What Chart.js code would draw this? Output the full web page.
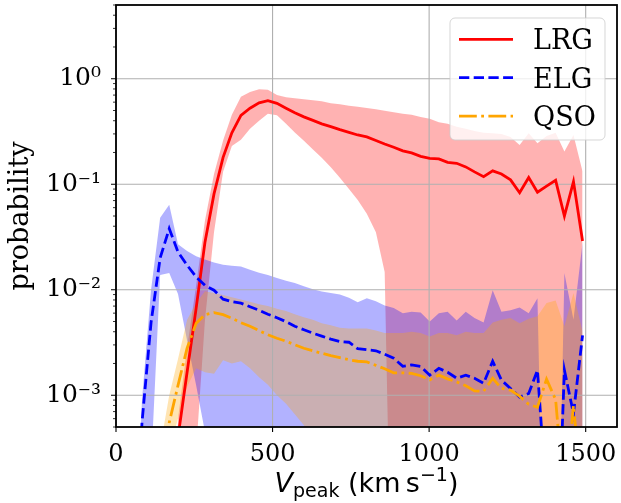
<!DOCTYPE html>
<html>
<head>
<meta charset="utf-8">
<script src="https://cdn.jsdelivr.net/npm/chart.js@4.4.1/dist/chart.umd.min.js"></script>
<style>
  html, body { margin: 0; padding: 0; background: #fff; }
</style>
</head>
<body>
<canvas id="vpeakChart" width="621" height="503"></canvas>
<script>
// bin centres, km/s
const vpeak = [26, 55, 83, 112, 141, 170, 198, 227, 256, 284, 313, 342, 370, 399, 428, 457, 485, 514,
  543, 571, 600, 629, 657, 686, 715, 744, 772, 801, 830, 858, 887, 916, 944, 973, 1002, 1031, 1059,
  1088, 1117, 1145, 1174, 1203, 1231, 1260, 1289, 1318, 1346, 1375, 1404, 1432, 1461, 1490];

// 1e-6 stands for "empty bin" (below the axis)
const lrgMid = [1e-6, 1e-6, 1e-6, 1e-6, 1e-6, 1e-6, 4e-4, 0.00165, 0.0067, 0.028, 0.081, 0.18, 0.307,
  0.45, 0.525, 0.59, 0.62, 0.585, 0.525, 0.475, 0.435, 0.403, 0.374, 0.352, 0.329, 0.31, 0.293, 0.281,
  0.26, 0.241, 0.224, 0.207, 0.198, 0.184, 0.176, 0.174, 0.161, 0.158, 0.146, 0.131, 0.118, 0.134,
  0.125, 0.11, 0.083, 0.116, 0.084, 0.096, 0.109, 0.05, 0.106, 0.029];
const lrgHigh = [1e-6, 1e-6, 1e-6, 1e-6, 1e-6, 1e-6, 6e-4, 0.0028, 0.011, 0.045, 0.125, 0.26, 0.455,
  0.675, 0.75, 0.795, 0.786, 0.70, 0.667, 0.653, 0.639, 0.625, 0.611, 0.585, 0.573, 0.554, 0.542, 0.527,
  0.513, 0.496, 0.48, 0.465, 0.455, 0.435, 0.417, 0.386, 0.374, 0.35, 0.335, 0.32, 0.307, 0.304, 0.30,
  0.281, 0.236, 0.305, 0.245, 0.287, 0.307, 0.204, 0.293, 0.132];
const lrgLow = [1e-6, 1e-6, 1e-6, 1e-6, 1e-6, 1e-6, 1e-6, 1e-6, 3e-4, 0.0051, 0.035, 0.131, 0.231,
  0.264, 0.335, 0.40, 0.465, 0.45, 0.374, 0.31, 0.258, 0.214, 0.178, 0.145, 0.115, 0.09, 0.071, 0.0525,
  0.035, 0.0147, 1e-6, 1e-6, 1e-6, 1e-6, 1e-6, 1e-6, 1e-6, 1e-6, 1e-6, 1e-6, 1e-6, 1e-6, 1e-6, 1e-6,
  1e-6, 1e-6, 1e-6, 1e-6, 1e-6, 1e-6, 1e-6, 1e-6];

const elgMid = [1e-6, 1e-5, 5.5e-4, 0.0049, 0.020, 0.038, 0.0228, 0.0171, 0.0132, 0.011, 0.0099,
  0.00814, 0.0077, 0.00746, 0.0069, 0.0064, 0.00586, 0.00543, 0.00498, 0.00451, 0.00418, 0.00387,
  0.00363, 0.0034, 0.00323, 0.00318, 0.00276, 0.0027, 0.00264, 0.00245, 0.00224, 0.00188, 0.00194,
  0.00188, 0.00155, 0.0018, 0.00165, 0.00145, 0.00155, 0.00145, 0.0013, 0.0021, 0.00139, 0.00116,
  0.00096, 0.00104, 0.00173, 1e-4, 1e-5, 0.00173, 6.7e-4, 0.0037];
const elgHigh = [1e-6, 1e-5, 9e-4, 0.01, 0.048, 0.064, 0.027, 0.0233, 0.0208, 0.0193, 0.0181, 0.0173,
  0.0169, 0.0166, 0.0155, 0.0145, 0.0138, 0.0129, 0.0122, 0.0116, 0.0108, 0.0101, 0.0096, 0.0093,
  0.0090, 0.0084, 0.0076, 0.0083, 0.0078, 0.0071, 0.0067, 0.0060, 0.0062, 0.0061, 0.0050, 0.0060,
  0.0062, 0.0051, 0.0062, 0.0054, 0.0049, 0.0099, 0.0062, 0.0064, 0.0068, 0.0060, 0.0083, 1e-6, 1e-6,
  0.0144, 0.0052, 0.028];
const elgLow = [1e-6, 1e-6, 1e-6, 2.1e-4, 0.0138, 0.0144, 0.0091, 0.0033, 0.00124, 4.5e-4, 1e-6, 1e-6,
  1e-6, 1e-6, 1e-6, 1e-6, 1e-6, 1e-6, 1e-6, 1e-6, 1e-6, 1e-6, 1e-6, 1e-6, 1e-6, 1e-6, 1e-6, 1e-6, 1e-6,
  1e-6, 1e-6, 1e-6, 1e-6, 1e-6, 1e-6, 1e-6, 1e-6, 1e-6, 1e-6, 1e-6, 1e-6, 1e-6, 1e-6, 1e-6, 1e-6, 1e-6,
  1e-6, 1e-6, 1e-6, 1e-6, 1e-6, 1e-6];

const qsoMid = [1e-6, 1e-6, 1e-6, 1e-6, 1e-4, 5.5e-4, 0.00124, 0.0028, 0.0048, 0.0058, 0.00607, 0.0058,
  0.00537, 0.00487, 0.00451, 0.00409, 0.00375, 0.00347, 0.00325, 0.00301, 0.00279, 0.00264, 0.0025,
  0.00237, 0.00227, 0.00217, 0.0021, 0.00207, 0.00192, 0.00178, 0.00163, 0.00163, 0.00161, 0.00153,
  0.0014, 0.00155, 0.00143, 0.00134, 0.00123, 0.0011, 0.00109, 0.00145, 0.00116, 0.00112, 0.00098,
  0.00082, 0.00077, 0.00142, 0.00091, 1e-4, 0.0008, 1e-4];
const qsoHigh = [1e-6, 1e-6, 1e-6, 1e-6, 3.2e-4, 0.001, 0.0022, 0.0052, 0.0075, 0.0097, 0.0093, 0.0089,
  0.0085, 0.0081, 0.0077, 0.0073, 0.0070, 0.0066, 0.0063, 0.00586, 0.0055, 0.0052, 0.0048, 0.0046,
  0.00436, 0.0043, 0.0043, 0.0043, 0.0041, 0.0039, 0.0039, 0.0039, 0.0040, 0.0039, 0.0036, 0.0039,
  0.0039, 0.0037, 0.0040, 0.0039, 0.0039, 0.0049, 0.0052, 0.0054, 0.0048, 0.0053, 0.0056, 0.0075,
  0.0079, 0.0045, 0.0093, 0.004];
const qsoLow = [1e-6, 1e-6, 1e-6, 1e-6, 1e-6, 3e-4, 6e-4, 0.0012, 0.0018, 0.00165, 0.0016, 0.00215,
  0.002, 0.0021, 0.0018, 0.00148, 0.00126, 0.001, 0.00083, 0.00066, 0.00052, 3.5e-4, 1e-6, 1e-6,
  1e-6, 1e-6, 1e-6, 1e-6, 1e-6, 1e-6, 1e-6, 1e-6, 1e-6, 1e-6, 1e-6, 1e-6, 1e-6, 1e-6, 1e-6, 1e-6, 1e-6,
  1e-6, 1e-6, 1e-6, 1e-6, 1e-6, 1e-6, 1e-6, 1e-6, 1e-6, 1e-6, 1e-6];

const tracers = ["LRG", "ELG", "QSO"];
const xTicks = [0, 500, 1000, 1500];
const xTickLabels = ["0", "500", "1000", "1500"];
const yTicks = [1e-3, 1e-2, 1e-1, 1];
const yTickLabels = ["10\u207B\u00B3", "10\u207B\u00B2", "10\u207B\u00B9", "10\u2070"];
const yTitle = "probability";

const SERIF = "'DejaVu Serif', serif";
const SANS = "'DejaVu Sans', sans-serif";

const series = {
  LRG: { mid: lrgMid, low: lrgLow, high: lrgHigh },
  ELG: { mid: elgMid, low: elgLow, high: elgHigh },
  QSO: { mid: qsoMid, low: qsoLow, high: qsoHigh },
};
const styles = {
  LRG: { color: "#ff0000", band: "rgba(255,0,0,0.3)", dash: [] },
  ELG: { color: "#0000ff", band: "rgba(0,0,255,0.3)", dash: [10.3, 4.4] },
  QSO: { color: "#ffa500", band: "rgba(255,165,0,0.3)", dash: [17.8, 4.4, 2.8, 4.4] },
};
const LINE_W = 2.8;

const points = (arr) => arr.map((y, i) => ({ x: vpeak[i], y }));

const datasets = [];
tracers.forEach((name, k) => {
  datasets.push({
    label: name,
    data: points(series[name].mid),
    borderColor: styles[name].color,
    borderWidth: LINE_W,
    borderDash: styles[name].dash,
    borderCapStyle: "butt",
    pointRadius: 0,
    fill: false,
    order: 0.2 - 0.1 * k,
  });
});
tracers.forEach((name, k) => {
  datasets.push({
    label: name + " upper",
    data: points(series[name].high),
    borderColor: "rgba(0,0,0,0)",
    borderWidth: 0,
    pointRadius: 0,
    backgroundColor: styles[name].band,
    fill: "+1",
    order: 3 - k,
  });
  datasets.push({
    label: name + " lower",
    data: points(series[name].low),
    borderColor: "rgba(0,0,0,0)",
    borderWidth: 0,
    pointRadius: 0,
    fill: false,
    order: 3 - k,
  });
});

function drawGrid(chart) {
  const { ctx, chartArea: a, scales: { x, y } } = chart;
  ctx.save();
  ctx.strokeStyle = "#b0b0b0";
  ctx.lineWidth = 1.1;
  ctx.beginPath();
  xTicks.forEach((v) => {
    const px = x.getPixelForValue(v);
    ctx.moveTo(px, a.top);
    ctx.lineTo(px, a.bottom);
  });
  yTicks.forEach((v) => {
    const py = y.getPixelForValue(v);
    ctx.moveTo(a.left, py);
    ctx.lineTo(a.right, py);
  });
  ctx.stroke();
  ctx.restore();
}

function drawFrame(chart) {
  const { ctx, chartArea: a, scales: { x, y } } = chart;
  ctx.save();
  ctx.strokeStyle = "#000";
  // tick marks
  ctx.lineWidth = 1.1;
  ctx.beginPath();
  xTicks.forEach((v) => {
    const px = x.getPixelForValue(v);
    ctx.moveTo(px, a.bottom);
    ctx.lineTo(px, a.bottom + 5);
  });
  yTicks.forEach((v) => {
    const py = y.getPixelForValue(v);
    ctx.moveTo(a.left - 5, py);
    ctx.lineTo(a.left, py);
  });
  ctx.stroke();
  ctx.lineWidth = 0.8;
  ctx.beginPath();
  for (let e = -4; e <= 0; e++) {
    for (let m = 2; m <= 9; m++) {
      const v = m * Math.pow(10, e);
      if (v < y.min || v > y.max) continue;
      const py = y.getPixelForValue(v);
      ctx.moveTo(a.left - 3, py);
      ctx.lineTo(a.left, py);
    }
  }
  ctx.stroke();
  ctx.lineWidth = 1.8;
  ctx.strokeRect(a.left, a.top, a.right - a.left, a.bottom - a.top);
  ctx.restore();
}

function drawLegend(chart) {
  const { ctx } = chart;
  const box = { x: 450, y: 18, w: 155, h: 122 };
  ctx.save();
  ctx.beginPath();
  ctx.roundRect(box.x, box.y, box.w, box.h, 5);
  ctx.fillStyle = "rgba(255,255,255,0.8)";
  ctx.fill();
  ctx.strokeStyle = "rgba(204,204,204,0.8)";
  ctx.lineWidth = 1;
  ctx.stroke();
  ctx.font = `27px ${SERIF}`;
  ctx.fillStyle = "#000";
  ctx.textBaseline = "alphabetic";
  tracers.forEach((name, k) => {
    const ry = 39.3 + k * 38.4;
    ctx.beginPath();
    ctx.setLineDash(styles[name].dash);
    ctx.lineCap = "butt";
    ctx.strokeStyle = styles[name].color;
    ctx.lineWidth = LINE_W;
    ctx.moveTo(459, ry);
    ctx.lineTo(513, ry);
    ctx.stroke();
    ctx.setLineDash([]);
    ctx.fillText(name, 533, ry + 9.8);
  });
  ctx.restore();
}

function drawTitles(chart) {
  const { ctx, chartArea: a } = chart;
  ctx.save();
  ctx.fillStyle = "#000";
  // y title
  ctx.save();
  ctx.translate(27.5, (a.top + a.bottom) / 2);
  ctx.rotate(-Math.PI / 2);
  ctx.font = `27px ${SERIF}`;
  ctx.textAlign = "center";
  ctx.textBaseline = "alphabetic";
  ctx.fillText(yTitle, 0, 0);
  ctx.restore();
  // x title: V_peak (km s^-1)
  const parts = [
    { text: "V", font: `italic 27px ${SANS}`, dy: 0 },
    { text: "peak", font: `19px ${SANS}`, dy: 5 },
    { text: " (km\u2009s", font: `27px ${SANS}`, dy: 0 },
    { text: "\u22121", font: `19px ${SANS}`, dy: -11 },
    { text: ")", font: `27px ${SANS}`, dy: 0 },
  ];
  let total = 0;
  parts.forEach((p) => { ctx.font = p.font; p.w = ctx.measureText(p.text).width; total += p.w; });
  let cx = (a.left + a.right) / 2 - total / 2;
  const base = 492;
  ctx.textBaseline = "alphabetic";
  parts.forEach((p) => {
    ctx.font = p.font;
    ctx.fillText(p.text, cx, base + p.dy);
    cx += p.w;
  });
  ctx.restore();
}

const decorations = {
  id: "decorations",
  beforeDatasetDraw(chart, args) {
    if (args.index === 0) drawGrid(chart);
  },
  afterDraw(chart) {
    drawFrame(chart);
    drawLegend(chart);
    drawTitles(chart);
  },
};

new Chart(document.getElementById("vpeakChart"), {
  type: "line",
  data: { datasets },
  plugins: [decorations],
  options: {
    responsive: false,
    animation: false,
    events: [],
    layout: { padding: { top: 5, right: 4, left: 0, bottom: 0 } },
    plugins: {
      legend: { display: false },
      tooltip: { enabled: false },
    },
    scales: {
      x: {
        type: "linear",
        min: 0,
        max: 1600,
        afterBuildTicks: (scale) => { scale.ticks = xTicks.map((v) => ({ value: v })); },
        afterFit: (scale) => {
          scale.height = 76;
          scale.paddingLeft = 0;
          scale.paddingRight = 0;
        },
        grid: { display: false, drawTicks: false, tickLength: 0 },
        border: { display: false },
        ticks: {
          autoSkip: false,
          maxRotation: 0,
          padding: 13,
          color: "#000",
          font: { family: SERIF, size: 24 },
          callback: (v) => xTickLabels[xTicks.indexOf(v)],
        },
      },
      y: {
        type: "logarithmic",
        min: 5e-4,
        max: 5,
        afterBuildTicks: (scale) => { scale.ticks = yTicks.map((v) => ({ value: v })); },
        afterFit: (scale) => {
          scale.width = 116;
          scale.paddingTop = 0;
          scale.paddingBottom = 0;
        },
        grid: { display: false, drawTicks: false, tickLength: 0 },
        border: { display: false },
        ticks: {
          autoSkip: false,
          padding: 15,
          color: "#000",
          font: { family: SERIF, size: 25 },
          callback: (v) => yTickLabels[yTicks.indexOf(v)],
        },
      },
    },
  },
});
</script>
</body>
</html>
